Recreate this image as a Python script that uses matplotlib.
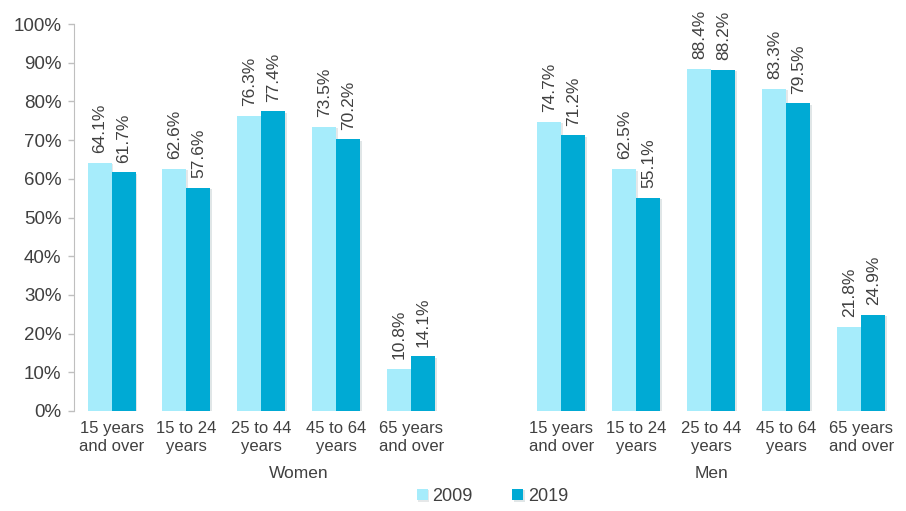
"""Employment rate by age group and sex, 2009 vs 2019."""

import matplotlib
matplotlib.use('Agg')
from matplotlib import pyplot
from matplotlib import patheffects
import numpy

# Data
groups = ['Women', 'Men']
age_groups = ['15 years\nand over', '15 to 24\nyears', '25 to 44\nyears',
              '45 to 64\nyears', '65 years\nand over']
women_2009 = [64.1, 62.6, 76.3, 73.5, 10.8]
women_2019 = [61.7, 57.6, 77.4, 70.2, 14.1]
men_2009 = [74.7, 62.5, 88.4, 83.3, 21.8]
men_2019 = [71.2, 55.1, 88.2, 79.5, 24.9]
years = ['2009', '2019']

light = '#a6ecfb'
dark = '#00aad4'
text_color = '#404040'

pyplot.rc('font', family=['Liberation Sans', 'DejaVu Sans'], size=12)

fig = pyplot.figure(figsize=(9.06, 5.11), dpi=100)
ax = fig.add_axes([0.0817, 0.1957, 0.9103, 0.7573])

# one empty slot between the two groups
n = len(age_groups)
x_women = numpy.arange(n)
x_men = numpy.arange(n) + n + 1
x_all = numpy.concatenate([x_women, x_men])
v2009 = women_2009 + men_2009
v2019 = women_2019 + men_2019

width = 0.32
shadow = [patheffects.SimplePatchShadow(offset=(1.0, -1.0), alpha=0.12),
          patheffects.Normal()]
b1 = ax.bar(x_all - width / 2, v2009, width, color=light, label=years[0],
            path_effects=shadow)
b2 = ax.bar(x_all + width / 2, v2019, width, color=dark, label=years[1],
            path_effects=shadow)

for bars, vals in ((b1, v2009), (b2, v2019)):
    for bar, v in zip(bars, vals):
        ax.annotate(f'{v:.1f}%', (bar.get_x() + bar.get_width() / 2, v),
                    xytext=(0, 7), textcoords='offset points',
                    rotation=90, ha='center', va='bottom',
                    color=text_color, fontsize=12.5)

ax.set_xlim(-0.5, 2 * n + 0.5)
ax.set_ylim(0, 100)
ax.set_yticks(numpy.arange(0, 101, 10))
ax.set_yticklabels([f'{t}%' for t in range(0, 101, 10)])
ax.set_xticks(x_all)
ax.set_xticklabels(age_groups * 2, linespacing=1.3)
ax.tick_params(axis='x', length=0, pad=7, colors=text_color, labelsize=12)
ax.tick_params(axis='y', length=4, width=1, color='#bfbfbf',
               colors=text_color, labelsize=13.5, pad=5)
for t in ax.get_yticklabels():
    t.set_color(text_color)

for side in ('top', 'right', 'bottom'):
    ax.spines[side].set_visible(False)
ax.spines['left'].set_color('#bfbfbf')

# group names under the category labels
ax.text(2.5, -0.142, groups[0], transform=ax.get_xaxis_transform(),
        ha='center', va='top', color=text_color, fontsize=12.5)
ax.text(n + 1 + 2.0, -0.142, groups[1], transform=ax.get_xaxis_transform(),
        ha='center', va='top', color=text_color, fontsize=12.5)

fig.legend(loc='lower center', bbox_to_anchor=(0.5436, -0.02), ncol=2,
           frameon=False, handlelength=0.6, handleheight=0.6,
           handletextpad=0.25, columnspacing=2.2, fontsize=13,
           labelcolor=text_color)

fig.savefig('out.png', dpi=100)
